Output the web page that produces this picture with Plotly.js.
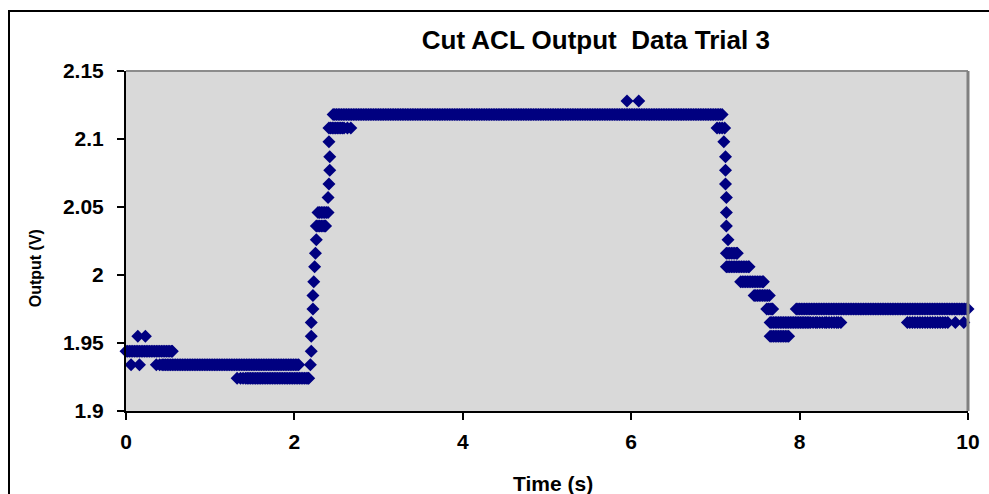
<!DOCTYPE html>
<html>
<head>
<meta charset="utf-8">
<script src="https://cdn.plot.ly/plotly-3.0.1.min.js"></script>
<style>
  html, body { margin: 0; padding: 0; background: #ffffff; overflow: hidden; width: 989px; height: 494px; }
  #frame { position: absolute; left: 8px; top: 10px; width: 1200px; height: 800px; border-top: 2px solid #000; border-left: 2px solid #000; }
  #chart { position: absolute; left: 0; top: 0; width: 989px; height: 494px; }
</style>
</head>
<body>
<div id="frame"></div>
<div id="chart"></div>
<script>
// Output levels (V) and the sample times (s) recorded at each level
const tAt2128 = [5.95, 6.09];
const tAt2118 = [2.46,2.48,2.50,2.52,2.54,2.56,2.58,2.60,2.62,2.64,2.66,2.68,2.70,2.72,2.74,2.76,2.78,2.80,2.82,2.84,2.86,2.88,2.90,2.92,2.94,2.96,2.98,
  3.00,3.02,3.04,3.06,3.08,3.10,3.12,3.14,3.16,3.18,3.20,3.22,3.24,3.26,3.28,3.30,3.32,3.34,3.36,3.38,3.40,3.42,3.44,3.46,3.48,3.50,3.52,3.54,3.56,3.58,3.60,3.62,3.64,3.66,3.68,3.70,3.72,3.74,3.76,3.78,3.80,3.82,3.84,3.86,3.88,3.90,3.92,3.94,3.96,3.98,
  4.00,4.02,4.04,4.06,4.08,4.10,4.12,4.14,4.16,4.18,4.20,4.22,4.24,4.26,4.28,4.30,4.32,4.34,4.36,4.38,4.40,4.42,4.44,4.46,4.48,4.50,4.52,4.54,4.56,4.58,4.60,4.62,4.64,4.66,4.68,4.70,4.72,4.74,4.76,4.78,4.80,4.82,4.84,4.86,4.88,4.90,4.92,4.94,4.96,4.98,
  5.00,5.02,5.04,5.06,5.08,5.10,5.12,5.14,5.16,5.18,5.20,5.22,5.24,5.26,5.28,5.30,5.32,5.34,5.36,5.38,5.40,5.42,5.44,5.46,5.48,5.50,5.52,5.54,5.56,5.58,5.60,5.62,5.64,5.66,5.68,5.70,5.72,5.74,5.76,5.78,5.80,5.82,5.84,5.86,5.88,5.90,5.92,5.94,5.96,5.98,
  6.00,6.02,6.04,6.06,6.08,6.10,6.12,6.14,6.16,6.18,6.20,6.22,6.24,6.26,6.28,6.30,6.32,6.34,6.36,6.38,6.40,6.42,6.44,6.46,6.48,6.50,6.52,6.54,6.56,6.58,6.60,6.62,6.64,6.66,6.68,6.70,6.72,6.74,6.76,6.78,6.80,6.82,6.84,6.86,6.88,6.90,6.92,6.94,6.96,6.98,
  7.00,7.02,7.04,7.06,7.08];
const tAt2108 = [2.41,2.43,2.45,2.47,2.49,2.51,2.53,2.55,2.57,2.59,2.63,2.67, 7.02,7.05,7.08,7.11];
const tAt2098 = [2.41, 7.10];
const tAt2087 = [2.42, 7.12];
const tAt2077 = [2.42, 7.12];
const tAt2067 = [2.41, 7.12];
const tAt2057 = [2.40, 7.13];
const tAt2046 = [2.28,2.30,2.32,2.34,2.36,2.38,2.40, 7.13];
const tAt2036 = [2.26,2.28,2.30,2.32,2.34,2.36,2.37, 7.13];
const tAt2026 = [2.26, 7.15];
const tAt2016 = [2.25, 7.13,7.15,7.17,7.19,7.21,7.23,7.25,7.26];
const tAt2006 = [2.24, 7.13,7.15,7.17,7.19,7.21,7.23,7.25,7.27,7.29,7.31,7.33,7.35,7.37,7.39,7.40];
const tAt1995 = [2.23, 7.30,7.32,7.34,7.36,7.38,7.40,7.42,7.44,7.46,7.48,7.50,7.52,7.54,7.56,7.57];
const tAt1985 = [2.22, 7.46,7.48,7.50,7.52,7.54,7.56,7.58,7.60,7.62,7.64];
const tAt1975 = [2.22, 7.61,7.63,7.65,7.67,7.68,
  7.96,7.98,
  8.00,8.02,8.04,8.06,8.08,8.10,8.12,8.14,8.16,8.18,8.20,8.22,8.24,8.26,8.28,8.30,8.32,8.34,8.36,8.38,8.40,8.42,8.44,8.46,8.48,8.50,8.52,8.54,8.56,8.58,8.60,8.62,8.64,8.66,8.68,8.70,8.72,8.74,8.76,8.78,8.80,8.82,8.84,8.86,8.88,8.90,8.92,8.94,8.96,8.98,
  9.00,9.02,9.04,9.06,9.08,9.10,9.12,9.14,9.16,9.18,9.20,9.22,9.24,9.26,9.28,9.30,9.32,9.34,9.36,9.38,9.40,9.42,9.44,9.46,9.48,9.50,9.52,9.54,9.56,9.58,9.60,9.62,9.64,9.66,9.68,9.70,9.72,9.74,9.76,9.78,9.80,9.82,9.84,9.86,9.88,9.90,9.92,9.94,9.96,9.98,
  10.00];
const tAt1965 = [2.20, 7.65,7.67,7.69,7.71,7.73,7.75,7.77,7.79,7.81,7.83,7.85,7.87,7.89,7.91,7.93,7.95,7.97,7.99,8.01,8.03,8.05,8.07,8.09,8.11,8.13,
  8.16,8.19,8.21,8.24,8.27,8.30,8.32,8.35,8.38,8.41,8.44,8.46,8.49,
  9.28,9.31,9.34,9.37,9.40,9.43,9.46,9.49,9.52,9.55,9.58,9.61,9.64,9.67,9.70,9.73,9.76,9.85,9.95];
const tAt1955 = [0.14,0.23, 2.20, 7.65,7.67,7.69,7.71,7.73,7.75,7.77,7.79,7.81,7.83,7.85,7.87];
const tAt1944 = [0.00,0.02,0.04,0.06,0.08,0.10,0.12,0.14,0.16,0.18,0.20,0.22,0.24,0.26,0.28,0.30,0.32,0.34,0.36,0.38,0.40,0.42,0.44,0.46,0.48,0.50,0.52,0.54,0.55, 2.20];
const tAt1934 = [0.06,0.16, 0.36,0.40,0.43,
  0.45,0.47,0.49,0.51,0.53,0.55,0.57,0.59,0.61,0.63,0.65,0.67,0.69,0.71,0.73,0.75,0.77,0.79,0.81,0.83,0.85,0.87,0.89,0.91,0.93,0.95,0.97,0.99,
  1.01,1.03,1.05,1.07,1.09,1.11,1.13,1.15,1.17,1.19,1.21,1.23,1.25,1.27,1.29,1.31,1.33,1.35,1.37,1.39,1.41,1.43,1.45,1.47,1.49,1.51,1.53,1.55,1.57,1.59,1.61,1.63,1.65,1.67,1.69,1.71,1.73,1.75,1.77,1.79,1.81,1.83,1.85,1.87,1.89,1.91,1.93,1.95,1.97,1.99,
  2.01,2.03,2.05, 2.19];
const tAt1924 = [1.32,1.36,1.39,1.42,
  1.44,1.46,1.48,1.50,1.52,1.54,1.56,1.58,1.60,1.62,1.64,1.66,1.68,1.70,1.72,1.74,1.76,1.78,1.80,1.82,1.84,1.86,1.88,1.90,1.92,1.94,1.96,1.98,
  2.00,2.02,2.04,2.06,2.08,2.10,2.12,2.14,2.16,2.17];

const levelValues = [2.128, 2.118, 2.108, 2.098, 2.087, 2.077, 2.067, 2.057, 2.046, 2.036, 2.026, 2.016, 2.006, 1.995, 1.985, 1.975, 1.965, 1.955, 1.944, 1.934, 1.924];
const levelTimes = [tAt2128, tAt2118, tAt2108, tAt2098, tAt2087, tAt2077, tAt2067, tAt2057, tAt2046, tAt2036, tAt2026, tAt2016, tAt2006, tAt1995, tAt1985, tAt1975, tAt1965, tAt1955, tAt1944, tAt1934, tAt1924];

const xTickVals = [0, 2, 4, 6, 8, 10];
const yTickVals = [1.9, 1.95, 2, 2.05, 2.1, 2.15];
const yTickText = ['1.9', '1.95', '2', '2.05', '2.1', '2.15'];

const xs = [], ys = [];
levelTimes.forEach((ts, i) => { ts.forEach(t => { xs.push(t); ys.push(levelValues[i]); }); });

const fontFam = 'Liberation Sans, Arial, sans-serif';
const trace = {
  type: 'scatter', mode: 'markers', x: xs, y: ys, cliponaxis: false,
  marker: { symbol: 'diamond', size: 10, color: '#000080', line: { width: 0 } },
  hoverinfo: 'x+y'
};

const layout = {
  width: 989, height: 494,
  margin: { l: 126, r: 21, t: 71, b: 83, pad: 0 },
  paper_bgcolor: 'rgba(0,0,0,0)', plot_bgcolor: '#d9d9d9',
  showlegend: false,
  title: { text: '<b>Cut ACL Output\u00a0\u00a0Data Trial 3</b>', font: { family: fontFam, size: 26, color: '#000' },
           x: 0.558, xref: 'paper', xanchor: 'center', y: 0.919, yref: 'container', yanchor: 'middle' },
  xaxis: {
    range: [0, 10], tickvals: xTickVals, ticktext: xTickVals.map(String),
    showgrid: false, zeroline: false, showline: true, linecolor: '#000', linewidth: 2,
    ticks: 'outside', ticklen: 7, tickwidth: 2, tickcolor: '#000',
    tickfont: { family: fontFam, size: 21, color: '#000', weight: 'bold' }, ticklabelstandoff: 4
  },
  yaxis: {
    range: [1.9, 2.15], tickvals: yTickVals, ticktext: yTickText,
    showgrid: false, zeroline: false, showline: true, linecolor: '#000', linewidth: 2,
    ticks: 'outside', ticklen: 7, tickwidth: 2, tickcolor: '#000',
    tickfont: { family: fontFam, size: 21, color: '#000', weight: 'bold' }, ticklabelstandoff: 9
  },
  shapes: [
    { type: 'line', xref: 'paper', yref: 'paper', x0: 0, x1: 1, y0: 1, y1: 1, line: { color: '#8c8c8c', width: 2 } },
    { type: 'line', xref: 'paper', yref: 'paper', x0: 1, x1: 1, y0: 0, y1: 1, line: { color: '#808080', width: 3 } }
  ],
  annotations: [
    { text: '<b>Time (s)</b>', xref: 'paper', yref: 'paper', x: 0.507, y: -0.212, xanchor: 'center', yanchor: 'middle',
      showarrow: false, font: { family: fontFam, size: 21, color: '#000' } },
    { text: '<b>Output (V)</b>', xref: 'paper', yref: 'paper', x: -0.108, y: 0.42, xanchor: 'center', yanchor: 'middle',
      textangle: -90, showarrow: false, font: { family: fontFam, size: 16, color: '#000' } }
  ]
};

Plotly.newPlot('chart', [trace], layout, { displayModeBar: false, staticPlot: true });
</script>
</body>
</html>
